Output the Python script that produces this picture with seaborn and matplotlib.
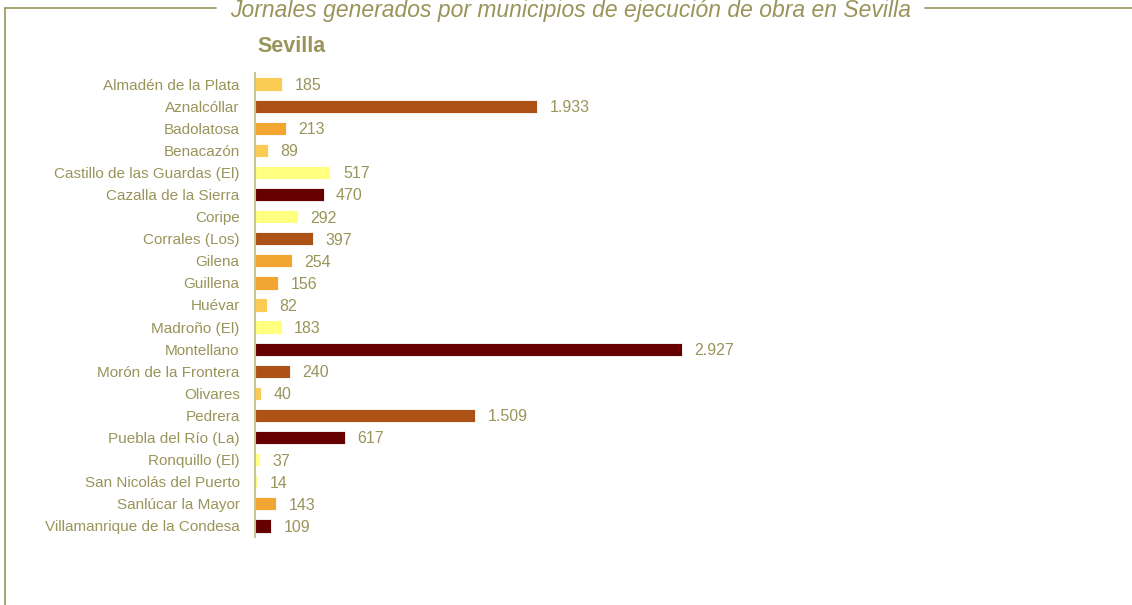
import numpy as np
import pandas as pd
import matplotlib.pyplot as plt
import seaborn as sns
from matplotlib.lines import Line2D

municipios = [
    "Almadén de la Plata", "Aznalcóllar", "Badolatosa", "Benacazón",
    "Castillo de las Guardas (El)", "Cazalla de la Sierra", "Coripe",
    "Corrales (Los)", "Gilena", "Guillena", "Huévar", "Madroño (El)",
    "Montellano", "Morón de la Frontera", "Olivares", "Pedrera",
    "Puebla del Río (La)", "Ronquillo (El)", "San Nicolás del Puerto",
    "Sanlúcar la Mayor", "Villamanrique de la Condesa",
]
jornales = [185, 1933, 213, 89, 517, 470, 292, 397, 254, 156, 82, 183,
            2927, 240, 40, 1509, 617, 37, 14, 143, 109]
colores = ["#FCCB54", "#AD5216", "#F2A530", "#FCCB54", "#FFFF80", "#660000",
           "#FFFF80", "#AD5216", "#F2A530", "#F2A530", "#FCCB54", "#FFFF80",
           "#660000", "#AD5216", "#FCCB54", "#AD5216", "#660000", "#FFFF80",
           "#FFFF80", "#F2A530", "#660000"]

texto = "#99945A"
sns.set_style("white")
plt.rcParams['font.family'] = ['Liberation Sans Narrow', 'Liberation Sans', 'DejaVu Sans']

df = pd.DataFrame({"municipio": municipios, "jornales": jornales})

W, H = 1132, 605
fig = plt.figure(figsize=(W / 100, H / 100), dpi=100)
# axes in pixel coords: left 255, right 1110, top 73, bottom 537
ax = fig.add_axes([255 / W, 1 - 537 / H, (1110 - 255) / W, (537 - 73) / H])

sns.barplot(data=df, y="municipio", x="jornales", hue="municipio",
            palette=colores, saturation=1, legend=False, orient="h", width=0.6,
            edgecolor="white", linewidth=0.6, ax=ax)

ax.set_xlim(0, 855 / (427 / 2927))
ax.set_ylim(len(municipios) - 0.5, -0.5)
ax.set_xlabel("")
ax.set_ylabel("")
ax.set_xticks([])
ax.tick_params(axis="y", length=0, pad=11, labelsize=11, labelcolor=texto)
for s in ["top", "right", "bottom"]:
    ax.spines[s].set_visible(False)
ax.spines["left"].set_color("#C8C49A")
ax.spines["left"].set_linewidth(1.5)

for i, v in enumerate(jornales):
    lab = f"{v:,}".replace(",", ".")
    ax.annotate(lab, (v, i), xytext=(9, -1), textcoords="offset points",
                va="center", ha="left", fontsize=11.5, color=texto)

# frame and title
fig.add_artist(Line2D([5 / W, 5 / W], [0, 1 - 8 / H], color=texto, lw=1.2))
fig.add_artist(Line2D([5 / W, 216 / W], [1 - 8 / H, 1 - 8 / H], color=texto, lw=1.2))
fig.add_artist(Line2D([925 / W, 1], [1 - 8 / H, 1 - 8 / H], color=texto, lw=1.2))
fig.text(571 / W, 1 - 11 / H, "Jornales generados por municipios de ejecución de obra en Sevilla",
         ha="center", va="center", fontsize=16.5, style="italic", color=texto)
fig.text(257 / W, 1 - 46 / H, "Sevilla", ha="left", va="center",
         fontsize=15.5, fontweight="bold", color=texto)

fig.savefig("out.png", dpi=100)
